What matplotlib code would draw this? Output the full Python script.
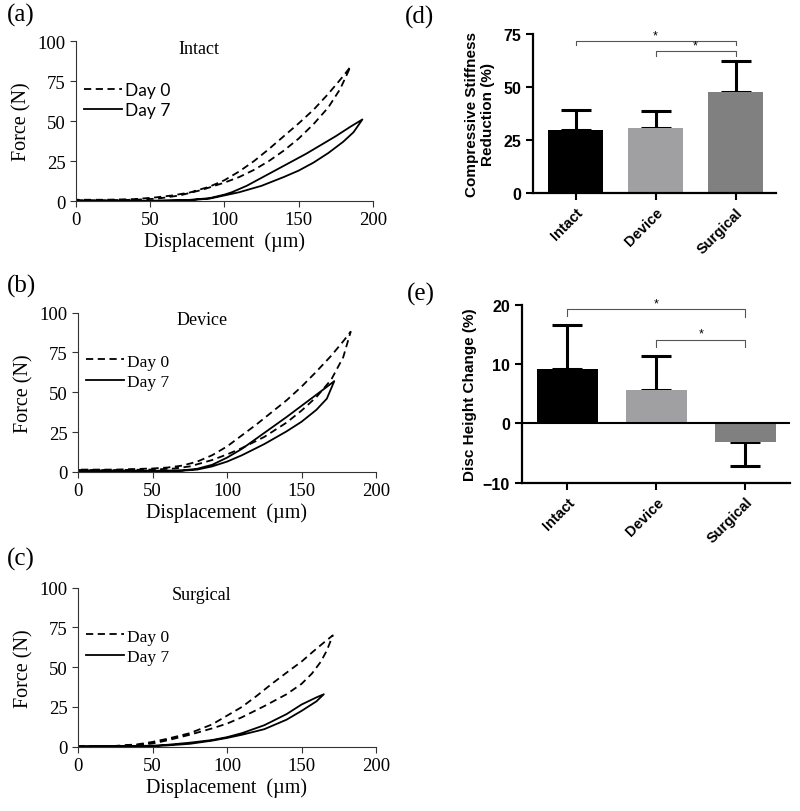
import matplotlib
matplotlib.use('Agg')
import matplotlib.pyplot as plt

# ---- hysteresis curves: loading branch then unloading branch (x in um, y in N)
intact_d0_x = [0, 20, 40, 55, 70, 85, 100, 110, 120, 130, 140, 150, 160, 170, 178, 185,
               180, 175, 170, 165, 160, 150, 140, 130, 120, 110, 100, 90, 77, 65, 54, 40, 20, 0]
intact_d0_y = [0.5, 0.5, 0.8, 1.5, 3.5, 7, 11.5, 15, 19.5, 25, 31.5, 39, 48, 58.5, 70, 84,
               78, 72.5, 67, 62, 57, 48.5, 40.5, 32.5, 25, 18.5, 13, 9, 5.4, 3.5, 2.3, 1.2, 0.8, 0.8]
intact_d7_x = [0, 50, 75, 90, 100, 110, 125, 140, 150, 160, 170, 180, 187, 193,
               185, 175, 165, 155, 145, 135, 125, 115, 105, 100, 90, 75, 50, 0]
intact_d7_y = [0, 0, 0.4, 1.5, 3.5, 5.5, 9.5, 15, 19, 24, 30, 37, 43, 51,
               46.5, 40.5, 35, 29.5, 24.5, 19.5, 14.5, 9.5, 5.5, 4, 1.8, 0.6, 0.2, 0.2]

device_d0_x = [0, 25, 50, 65, 75, 90, 100, 110, 125, 140, 150, 160, 170, 178, 183,
               178, 170, 160, 150, 140, 130, 120, 110, 100, 90, 80, 70, 60, 50, 25, 0]
device_d0_y = [1.2, 1.2, 1.5, 2.2, 3.5, 7.5, 11, 15, 22, 31, 38.5, 47, 58, 72, 88,
               82, 73, 63, 53.5, 45, 37.5, 30, 23, 16, 10.5, 6.5, 4, 2.8, 2.2, 1.5, 1.5]
device_d7_x = [0, 50, 70, 80, 90, 100, 110, 125, 140, 150, 160, 167, 172,
               165, 160, 150, 140, 125, 110, 100, 90, 80, 70, 50, 0]
device_d7_y = [0.5, 0.5, 0.8, 1.5, 3.5, 6.5, 10.5, 17.5, 25.5, 31.5, 39, 46, 57,
               52, 48.5, 41.5, 34.5, 24.5, 14.5, 9, 4.5, 2, 1, 0.8, 1]

surgical_d0_x = [0, 25, 40, 50, 60, 75, 90, 100, 110, 125, 140, 150, 157, 163, 167, 171,
                 165, 158, 150, 142, 130, 120, 110, 100, 90, 75, 60, 50, 40, 25, 0]
surgical_d0_y = [0, 0.2, 1, 2, 4, 7.5, 11.5, 14.5, 18.5, 25.5, 33, 39.5, 46, 53.5, 60.5, 70,
                 65.5, 60, 53.5, 48, 39.5, 32, 25, 19.5, 14, 8.5, 5, 3, 1.5, 0.5, 0.2]
surgical_d7_x = [0, 50, 60, 75, 90, 100, 110, 125, 140, 150, 160, 165,
                 160, 150, 140, 125, 110, 100, 90, 75, 60, 50, 0]
surgical_d7_y = [0, 0.3, 0.8, 1.8, 3.8, 5.5, 7.5, 11, 17, 22.5, 28.5, 33,
                 31, 26.5, 20.5, 13.5, 8.5, 6, 4.2, 2.5, 1.2, 0.6, 0.2]

# ---- bar data
groups = ['Intact', 'Device', 'Surgical']
bar_colors = ['#000000', '#a0a0a3', '#808080']
stiff_mean = [29.8, 30.6, 47.8]
stiff_err = [9.4, 8.1, 14.6]
height_mean = [9.1, 5.7, -3.1]
height_err = [7.5, 5.7, 4.0]

serif = ['Liberation Serif', 'DejaVu Serif']
sans = ['Liberation Sans', 'DejaVu Sans']

fig = plt.figure(figsize=(8, 8.12), dpi=100)


def curve_panel(rect, title, d0x, d0y, d7x, d7y, label, label_y, leg_font):
    ax = fig.add_axes(rect)
    ax.plot(d0x, d0y, color='black', lw=1.3, linestyle=(0, (4, 2.5)), label='Day 0')
    ax.plot(d7x, d7y, color='black', lw=1.3, label='Day 7')
    ax.set_xlim(0, 200)
    ax.set_ylim(0, 100)
    ax.set_xticks([0, 50, 100, 150, 200])
    ax.set_yticks([0, 25, 50, 75, 100])
    for s in ['top', 'right']:
        ax.spines[s].set_visible(False)
    for s in ['left', 'bottom']:
        ax.spines[s].set_color('#333333')
        ax.spines[s].set_linewidth(0.8)
    ax.tick_params(direction='out', length=4, width=0.8, color='#333333',
                   labelsize=13.5)
    for t in ax.get_xticklabels() + ax.get_yticklabels():
        t.set_family(serif)
    ax.set_xlabel('Displacement  (\u00b5m)', family=serif, fontsize=14.5, labelpad=2)
    ax.set_ylabel('Force (N)', family=serif, fontsize=14.5, labelpad=4)
    ax.text(83, 95.5, title, family=serif, fontsize=13, ha='center', va='center')
    ax.legend(loc='upper left', bbox_to_anchor=(0.02, 0.755), frameon=False,
              handlelength=2.2, handletextpad=0.2, labelspacing=0.25,
              borderpad=0.1, borderaxespad=0,
              prop={'family': leg_font, 'size': 12.5})
    fig.text(0.008, label_y, label, family=serif, fontsize=18, va='top', ha='left')
    return ax


curve_panel([0.095, 0.7512, 0.371, 0.197], 'Intact', intact_d0_x, intact_d0_y,
            intact_d7_x, intact_d7_y, '(a)', 0.995, ['Lato', 'DejaVu Sans'])
curve_panel([0.0975, 0.4175, 0.3725, 0.1963], 'Device', device_d0_x, device_d0_y,
            device_d7_x, device_d7_y, '(b)', 0.662, serif)
curve_panel([0.0975, 0.0792, 0.3725, 0.1958], 'Surgical', surgical_d0_x, surgical_d0_y,
            surgical_d7_x, surgical_d7_y, '(c)', 0.325, serif)


def style_bar_axes(ax):
    for s in ['top', 'right']:
        ax.spines[s].set_visible(False)
    for s in ['left', 'bottom']:
        ax.spines[s].set_linewidth(1.6)
    ax.tick_params(direction='out', length=5, width=1.5, labelsize=11.5)
    ax.set_xticks(range(len(groups)))
    ax.set_xticklabels(groups, rotation=45, ha='right', rotation_mode='anchor',
                       fontweight='bold', family=sans, fontsize=10.5)
    for t in ax.get_yticklabels():
        t.set_family(sans)
        t.set_fontweight('bold')


def bracket(ax, x0, x1, y, drop_l, drop_r):
    ax.plot([x0, x0, x1, x1], [y - drop_l, y, y, y - drop_r], color='#555555', lw=0.8)
    ax.text((x0 + x1) / 2, y, '*', ha='center', va='bottom', fontsize=9, family=sans)


# (d)
axd = fig.add_axes([0.666, 0.7607, 0.304, 0.1962])
xs = list(range(len(groups)))
axd.bar(xs, stiff_mean, width=0.69, color=bar_colors, zorder=2)
axd.errorbar(xs, stiff_mean, yerr=[[0, 0, 0], stiff_err], fmt='none', ecolor='black',
             elinewidth=2.2, capsize=11, capthick=2.2, zorder=1)
axd.set_xlim(-0.535, 2.506)
axd.set_ylim(0, 75)
axd.set_yticks([0, 25, 50, 75])
style_bar_axes(axd)
axd.set_ylabel('Compressive Stiffness\nReduction (%)', fontweight='bold',
               family=sans, fontsize=11, labelpad=6)
bracket(axd, 0, 2, 71.6, 1.6, 1.6)
bracket(axd, 1, 2, 66.9, 2.1, 2.1)
fig.text(0.506, 0.993, '(d)', family=serif, fontsize=18, va='top', ha='left')

# (e)
axe = fig.add_axes([0.652, 0.4043, 0.3354, 0.2192])
axe.bar(xs, height_mean, width=0.69, color=bar_colors, zorder=2)
err_lo = [0 if m > 0 else e for m, e in zip(height_mean, height_err)]
err_hi = [e if m > 0 else 0 for m, e in zip(height_mean, height_err)]
axe.errorbar(xs, height_mean, yerr=[err_lo, err_hi], fmt='none', ecolor='black',
             elinewidth=2.2, capsize=11, capthick=2.2, zorder=1)
axe.axhline(0, color='black', lw=1.5, zorder=3)
axe.set_xlim(-0.515, 2.5)
axe.set_ylim(-10, 20)
axe.set_yticks([-10, 0, 10, 20])
style_bar_axes(axe)
axe.set_ylabel('Disc Height Change (%)', fontweight='bold', family=sans,
               fontsize=11, labelpad=4)
bracket(axe, 0, 2, 19.2, 1.1, 1.3)
bracket(axe, 1, 2, 14.1, 1.2, 1.2)
fig.text(0.509, 0.652, '(e)', family=serif, fontsize=18, va='top', ha='left')

fig.savefig('out.png', dpi=100)
